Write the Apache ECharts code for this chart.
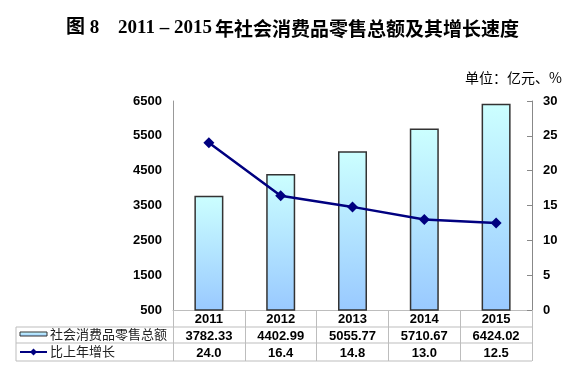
<!DOCTYPE html>
<html>
<head>
<meta charset="utf-8">
<script src="https://cdn.jsdelivr.net/npm/echarts@6/dist/echarts.min.js"></script>
<style>
    html, body { margin: 0; padding: 0; background: #fff; }
    #main { width: 566px; height: 376px; }
</style>
</head>
<body>
<div id="main"></div>
<script>
var years = ['2011', '2012', '2013', '2014', '2015'];
var retailSales = [3782.33, 4402.99, 5055.77, 5710.67, 6424.02];
var growthRate = [24.0, 16.4, 14.8, 13.0, 12.5];
var leftTicks = [500, 1500, 2500, 3500, 4500, 5500, 6500];
var seriesNames = ['社会消费品零售总额', '比上年增长'];

// 图表区域
var G_LEFT = 173, G_RIGHT = 532, G_TOP = 101, G_BOTTOM = 310;
var TABLE_LEFT = 16;
var rowLines = [327, 343, 361];
var gray = '#bdbdbd';
var fontNum = 'Liberation Sans, Arial, sans-serif';

var barColor = new echarts.graphic.LinearGradient(0, 0, 0, 1, [
    { offset: 0, color: '#ccffff' },
    { offset: 1, color: '#99c9ff' }
]);

var chart = echarts.init(document.getElementById('main'));

var graphics = [
    {
        type: 'text', left: 66, top: 19,
        style: { text: '图 8', font: 'bold 19px "Liberation Serif", "Noto Sans CJK SC"', fill: '#000' }
    },
    {
        type: 'text', left: 118, top: 19,
        style: { text: '2011 – 2015', font: 'bold 19px "Liberation Serif", "Noto Sans CJK SC"', fill: '#000' }
    },
    {
        type: 'text', left: 215, top: 19,
        style: { text: '年社会消费品零售总额及其增长速度', font: 'bold 19px "Noto Sans CJK SC"', fill: '#000' }
    },
    {
        type: 'text', right: 4, top: 71,
        style: { text: '单位：亿元、%', font: '14px "Noto Sans CJK SC"', fill: '#000' }
    }
];

// 表格线
rowLines.forEach(function (y) {
    graphics.push({
        type: 'line',
        shape: { x1: TABLE_LEFT, y1: y, x2: G_RIGHT, y2: y },
        style: { stroke: gray, lineWidth: 1 }
    });
});
graphics.push({
    type: 'line',
    shape: { x1: TABLE_LEFT, y1: rowLines[0], x2: TABLE_LEFT, y2: rowLines[2] },
    style: { stroke: gray, lineWidth: 1 }
});

// 表头图例
graphics.push({
    type: 'rect',
    shape: { x: 20, y: 332, width: 27, height: 4 },
    style: { fill: barColor, stroke: '#333', lineWidth: 1 }
});
graphics.push({
    type: 'text', left: 50, top: 328,
    style: { text: seriesNames[0], font: '13px "Noto Sans CJK SC"', fill: '#222' }
});
graphics.push({
    type: 'line',
    shape: { x1: 20, y1: 352, x2: 47, y2: 352 },
    style: { stroke: '#000080', lineWidth: 2 }
});
graphics.push({
    type: 'polygon',
    shape: { points: [[33.5, 348.5], [37, 352], [33.5, 355.5], [30, 352]] },
    style: { fill: '#000080' }
});
graphics.push({
    type: 'text', left: 50, top: 345,
    style: { text: seriesNames[1], font: '13px "Noto Sans CJK SC"', fill: '#222' }
});

var option = {
    backgroundColor: '#fff',
    animation: false,
    grid: {
        left: G_LEFT,
        right: 566 - G_RIGHT,
        top: G_TOP,
        bottom: 376 - G_BOTTOM
    },
    xAxis: {
        type: 'category',
        data: years,
        axisLine: { lineStyle: { color: gray, width: 1 } },
        axisTick: { show: true, length: 51, interval: 0, lineStyle: { color: gray } },
        axisLabel: {
            margin: 1,
            interval: 0,
            formatter: function (value, idx) {
                return '{y|' + value + '}\n{v|' + retailSales[idx].toFixed(2) + '}\n{g|' + growthRate[idx].toFixed(1) + '}';
            },
            rich: {
                y: { fontFamily: fontNum, fontWeight: 'bold', fontSize: 13, color: '#000', lineHeight: 17 },
                v: { fontFamily: fontNum, fontWeight: 'bold', fontSize: 13, color: '#000', lineHeight: 17 },
                g: { fontFamily: fontNum, fontWeight: 'bold', fontSize: 13, color: '#000', lineHeight: 17 }
            }
        }
    },
    yAxis: [
        {
            type: 'value',
            min: 500,
            max: 6500,
            position: 'left',
            axisLine: { show: true, lineStyle: { color: '#999' } },
            axisTick: { show: false },
            splitLine: { show: false },
            axisLabel: {
                customValues: leftTicks,
                formatter: function (v) { return String(v); },
                margin: 11,
                fontFamily: fontNum,
                fontWeight: 'bold',
                fontSize: 13,
                color: '#000'
            }
        },
        {
            type: 'value',
            min: 0,
            max: 30,
            interval: 5,
            position: 'right',
            axisLine: { show: true, lineStyle: { color: '#888' } },
            axisTick: { show: true, inside: true, length: 5, lineStyle: { color: '#888' } },
            splitLine: { show: false },
            axisLabel: {
                margin: 11,
                fontFamily: fontNum,
                fontWeight: 'bold',
                fontSize: 13,
                color: '#000'
            }
        }
    ],
    series: [
        {
            name: seriesNames[0],
            type: 'bar',
            yAxisIndex: 0,
            barWidth: 29,
            data: retailSales,
            itemStyle: {
                color: barColor,
                borderColor: '#333',
                borderWidth: 1.5
            }
        },
        {
            name: seriesNames[1],
            type: 'line',
            yAxisIndex: 1,
            data: growthRate,
            symbol: 'diamond',
            symbolSize: 11,
            lineStyle: { color: '#000080', width: 2.5 },
            itemStyle: { color: '#000080' }
        }
    ],
    graphic: graphics
};

chart.setOption(option);
</script>
</body>
</html>
